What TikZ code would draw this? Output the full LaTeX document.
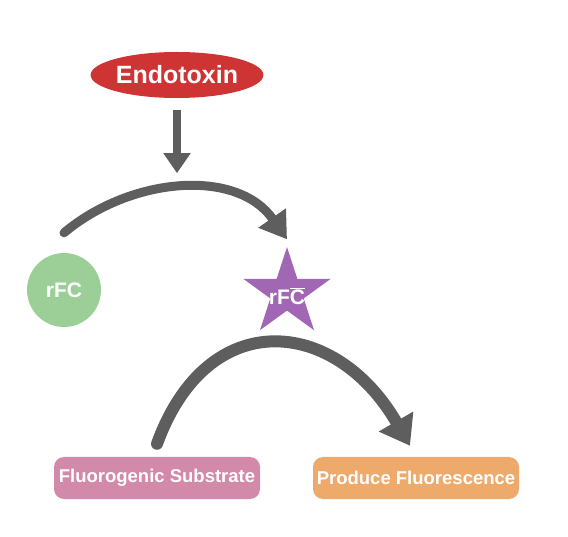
\documentclass[tikz,border=0pt]{standalone}
\usepackage{fontspec}
\setmainfont{Liberation Sans}
\usetikzlibrary{shapes.geometric,arrows.meta}
\definecolor{endored}{HTML}{CF3434}
\definecolor{rfcgreen}{HTML}{9CCF98}
\definecolor{rfcpurple}{HTML}{A167B5}
\definecolor{subpink}{HTML}{D38AAA}
\definecolor{fluoorange}{HTML}{EDAA6B}
\definecolor{arrowgray}{HTML}{5E5E5E}
\begin{document}
\begin{tikzpicture}[x=1pt,y=1pt,
    toxin/.style ={ellipse, fill=endored, text=white, font=\bfseries\fontsize{25}{29}\selectfont, inner sep=0pt, minimum width=158pt, minimum height=46pt},
    enzyme/.style ={circle, fill=rfcgreen, text=white, font=\bfseries\fontsize{21}{25}\selectfont, inner sep=0pt, minimum size=74pt},
    active/.style ={star, star points=5, star point ratio=2.618, fill=rfcpurple, text=white, font=\bfseries\fontsize{21}{25}\selectfont, inner sep=0pt, minimum size=92pt},
    result/.style ={rounded corners=10pt, text=white, font=\bfseries\fontsize{18.5}{22}\selectfont, inner sep=0pt, minimum width=206pt, minimum height=42pt},
    flow/.style ={draw=arrowgray, line width=8pt, -{Triangle[length=20pt,width=26pt]}},
    midflow/.style ={draw=arrowgray, line width=9pt, -{Triangle[length=26pt,width=32pt]}},
    bigflow/.style ={draw=arrowgray, line width=12pt, -{Triangle[length=28pt,width=38pt]}}]
   \useasboundingbox (0,0) rectangle (568,536);
   \node[toxin] (endo) at (177,461) {Endotoxin};
   \node[enzyme] (rfc) at (64,246) {rFC};
   \node[active] (rfca) at (287,243) {};
   \node[font=\bfseries\fontsize{21}{25}\selectfont, text=white] (rfcalabel) at (287,240) {rF$\overline{\hbox{C}}$};
   \node[result, fill=subpink] (sub) at (157,58) {Fluorogenic Substrate};
   \node[result, fill=fluoorange] (fluo) at (416,58) {Produce Fluorescence};

   \coordinate (down) at ([yshift=-75pt]endo.south);
   \draw[flow] ([yshift=-12pt]endo.south) to (down);
   \draw[midflow, line cap=round] ([yshift=20pt]rfc.north) to [out=40, in=125] ([yshift=7pt]rfca.north);
   \draw[bigflow, line cap=round] ([yshift=13pt]sub.north) to [out=70, in=120, looseness=1.5] ([xshift=-6pt,yshift=11pt]fluo.north);
 \end{tikzpicture}
\end{document}
